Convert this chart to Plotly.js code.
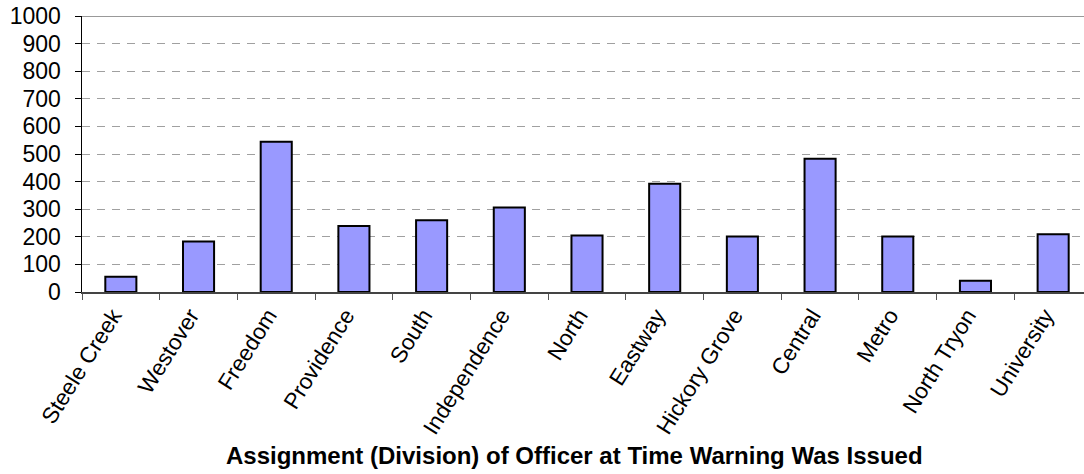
<!DOCTYPE html>
<html>
<head>
<meta charset="utf-8">
<script src="https://cdn.plot.ly/plotly-3.0.1.min.js"></script>
<style>
html, body { margin: 0; padding: 0; overflow: hidden; background: #fff; }
#chart { width: 1100px; height: 474px; }
</style>
</head>
<body>
<div id="chart"></div>
<script>
const divisions = ["Steele Creek", "Westover", "Freedom", "Providence", "South", "Independence",
  "North", "Eastway", "Hickory Grove", "Central", "Metro", "North Tryon", "University"];
const warnings = [55, 183, 544, 239, 260, 306, 205, 392, 201, 483, 201, 41, 209];
const yTicks = [0, 100, 200, 300, 400, 500, 600, 700, 800, 900, 1000];
const xTitle = "Assignment (Division) of Officer at Time Warning Was Issued";

const font = "Arial, 'Liberation Sans', sans-serif";

const trace = {
  type: "bar",
  x: divisions,
  y: warnings,
  marker: { color: "#9999FF", line: { color: "#000000", width: 2 } },
  hoverinfo: "x+y"
};

const layout = {
  width: 1100,
  height: 474,
  margin: { l: 82, r: 8, t: 15.5, b: 182 },
  paper_bgcolor: "#ffffff",
  plot_bgcolor: "#ffffff",
  showlegend: false,
  bargap: 0.6,
  font: { family: font, color: "#000" },
  xaxis: {
    type: "category",
    tickangle: -58,
    tickfont: { family: font, size: 22.5, color: "#000" },
    ticklabelshift: -8,
    showline: true,
    linecolor: "#444",
    linewidth: 1.5,
    ticks: "outside",
    tickson: "boundaries",
    ticklen: 6,
    tickcolor: "#555",
    showgrid: false,
    zeroline: false,
    automargin: false,
    fixedrange: true
  },
  yaxis: {
    range: [0, 1000],
    tickvals: yTicks,
    ticktext: yTicks.map(String),
    tickfont: { family: font, size: 23, color: "#000" },
    showline: true,
    linecolor: "#000",
    linewidth: 1.5,
    ticks: "outside",
    ticklen: 6,
    tickcolor: "#000",
    ticklabelstandoff: 9,
    showgrid: true,
    gridcolor: "#a0a0a0",
    gridwidth: 1,
    griddash: "8px,7px",
    zeroline: false,
    automargin: false,
    fixedrange: true
  },
  shapes: [{
    type: "line", xref: "paper", yref: "y",
    x0: 0, x1: 1, y0: 1000, y1: 1000,
    line: { color: "#999999", width: 2 }
  }],
  annotations: [{
    text: "<b>" + xTitle + "</b>",
    xref: "paper", yref: "paper",
    x: 0.488, y: -0.593,
    xanchor: "center", yanchor: "middle",
    showarrow: false,
    font: { family: font, size: 24, color: "#000" }
  }]
};

Plotly.newPlot("chart", [trace], layout, { staticPlot: true, displayModeBar: false });
</script>
</body>
</html>
